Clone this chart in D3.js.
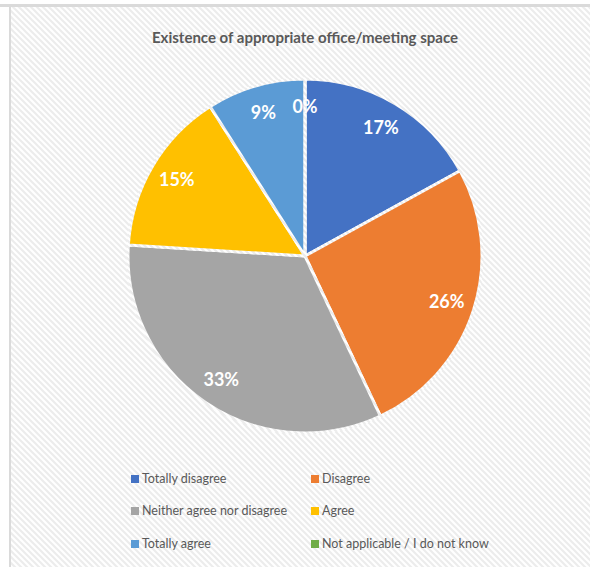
<!DOCTYPE html>
<html>
<head>
<meta charset="utf-8">
<script src="https://cdnjs.cloudflare.com/ajax/libs/d3/7.8.5/d3.min.js"></script>
<style>
  body { margin: 0; background: #ffffff; }
  svg { display: block; font-family: Lato, "Open Sans", sans-serif; }
</style>
</head>
<body>
<svg width="590" height="567"></svg>
<script>
// data
var categories = ['Totally disagree', 'Disagree', 'Neither agree nor disagree', 'Agree', 'Totally agree', 'Not applicable / I do not know'];
var percents = [17, 26, 33, 15, 9, 0];
var colors = ['#4472c4', '#ed7d31', '#a5a5a5', '#ffc000', '#5b9bd5', '#70ad47'];
var title = 'Existence of appropriate office/meeting space';

var width = +d3.select('svg').attr('width');
var height = +d3.select('svg').attr('height');

var svg = d3.select('svg');

// striped background, like the excel chart area
var defs = svg.append('defs');
var pat = defs.append('pattern')
    .attr('id', 'stripes')
    .attr('patternUnits', 'userSpaceOnUse')
    .attr('width', 6)
    .attr('height', 6);
pat.append('rect').attr('width', 6).attr('height', 6).attr('fill', '#ffffff');
pat.append('path')
    .attr('d', 'M-1,-1 L7,7 M-4,2 L2,8 M4,-2 L8,2')
    .attr('stroke', '#ececec')
    .attr('stroke-width', 2);

svg.append('rect')
    .attr('x', 11).attr('y', 7)
    .attr('width', width - 11).attr('height', height - 7)
    .attr('fill', 'url(#stripes)');

// frame lines top and left
svg.append('rect').attr('x', 0).attr('y', 4).attr('width', width).attr('height', 3).attr('fill', '#dadada');
svg.append('rect').attr('x', 9).attr('y', 4).attr('width', 2).attr('height', height).attr('fill', '#dadada');

svg.append('text')
    .text(title)
    .attr('x', 305)
    .attr('y', 43)
    .attr('text-anchor', 'middle')
    .style('font-size', '15px')
    .style('font-weight', 'bold')
    .style('fill', '#595959');

var scaleColor = d3.scaleOrdinal().domain(categories).range(colors);

var pieRadius = 177;
var pieGroup = svg.append('g')
    .attr('transform', 'translate(305,256)');

var makeArc = d3.arc()
    .outerRadius(pieRadius)
    .innerRadius(0);

var labelArc = d3.arc()
    .outerRadius(152)
    .innerRadius(146);

var makePie = d3.pie()
    .sort(null)
    .value(function(d) { return d.value; });

var loadData = categories.map(function(c, i) { return {name: c, value: percents[i]}; });
var arcs = makePie(loadData);

pieGroup.selectAll('.arc')
    .data(arcs)
    .enter()
    .append('path')
    .attr('class', 'arc')
    .attr('d', makeArc)
    .attr('fill', function(d) { return scaleColor(d.data.name); })
    .attr('stroke', 'url(#stripes)')
    .attr('stroke-width', 3)
    .attr('stroke-linejoin', 'round');

// labels on top of all slices
pieGroup.selectAll('.lbl')
    .data(arcs)
    .enter()
    .append('text')
    .attr('class', 'lbl')
    .attr('transform', function(d) { return 'translate(' + labelArc.centroid(d) + ')'; })
    .attr('dy', '.35em')
    .attr('text-anchor', 'middle')
    .style('font-size', '18px')
    .style('font-weight', 'bold')
    .style('fill', '#ffffff')
    .text(function(d) { return d.data.value + '%'; });

// legend, two columns
var legendX = [131, 311];
var legendY = [479, 511, 544];

var legend = svg.selectAll('.legend')
    .data(categories)
    .enter()
    .append('g')
    .attr('class', 'legend')
    .attr('transform', function(d, i) { return 'translate(' + legendX[i % 2] + ',' + legendY[Math.floor(i / 2)] + ')'; });

legend.append('rect')
    .attr('x', 0).attr('y', -4)
    .attr('width', 8).attr('height', 8)
    .attr('fill', function(d) { return scaleColor(d); });

legend.append('text')
    .attr('x', 11)
    .attr('dy', '.35em')
    .style('font-size', '12.5px')
    .style('fill', '#595959')
    .text(function(d) { return d; });
</script>
</body>
</html>
